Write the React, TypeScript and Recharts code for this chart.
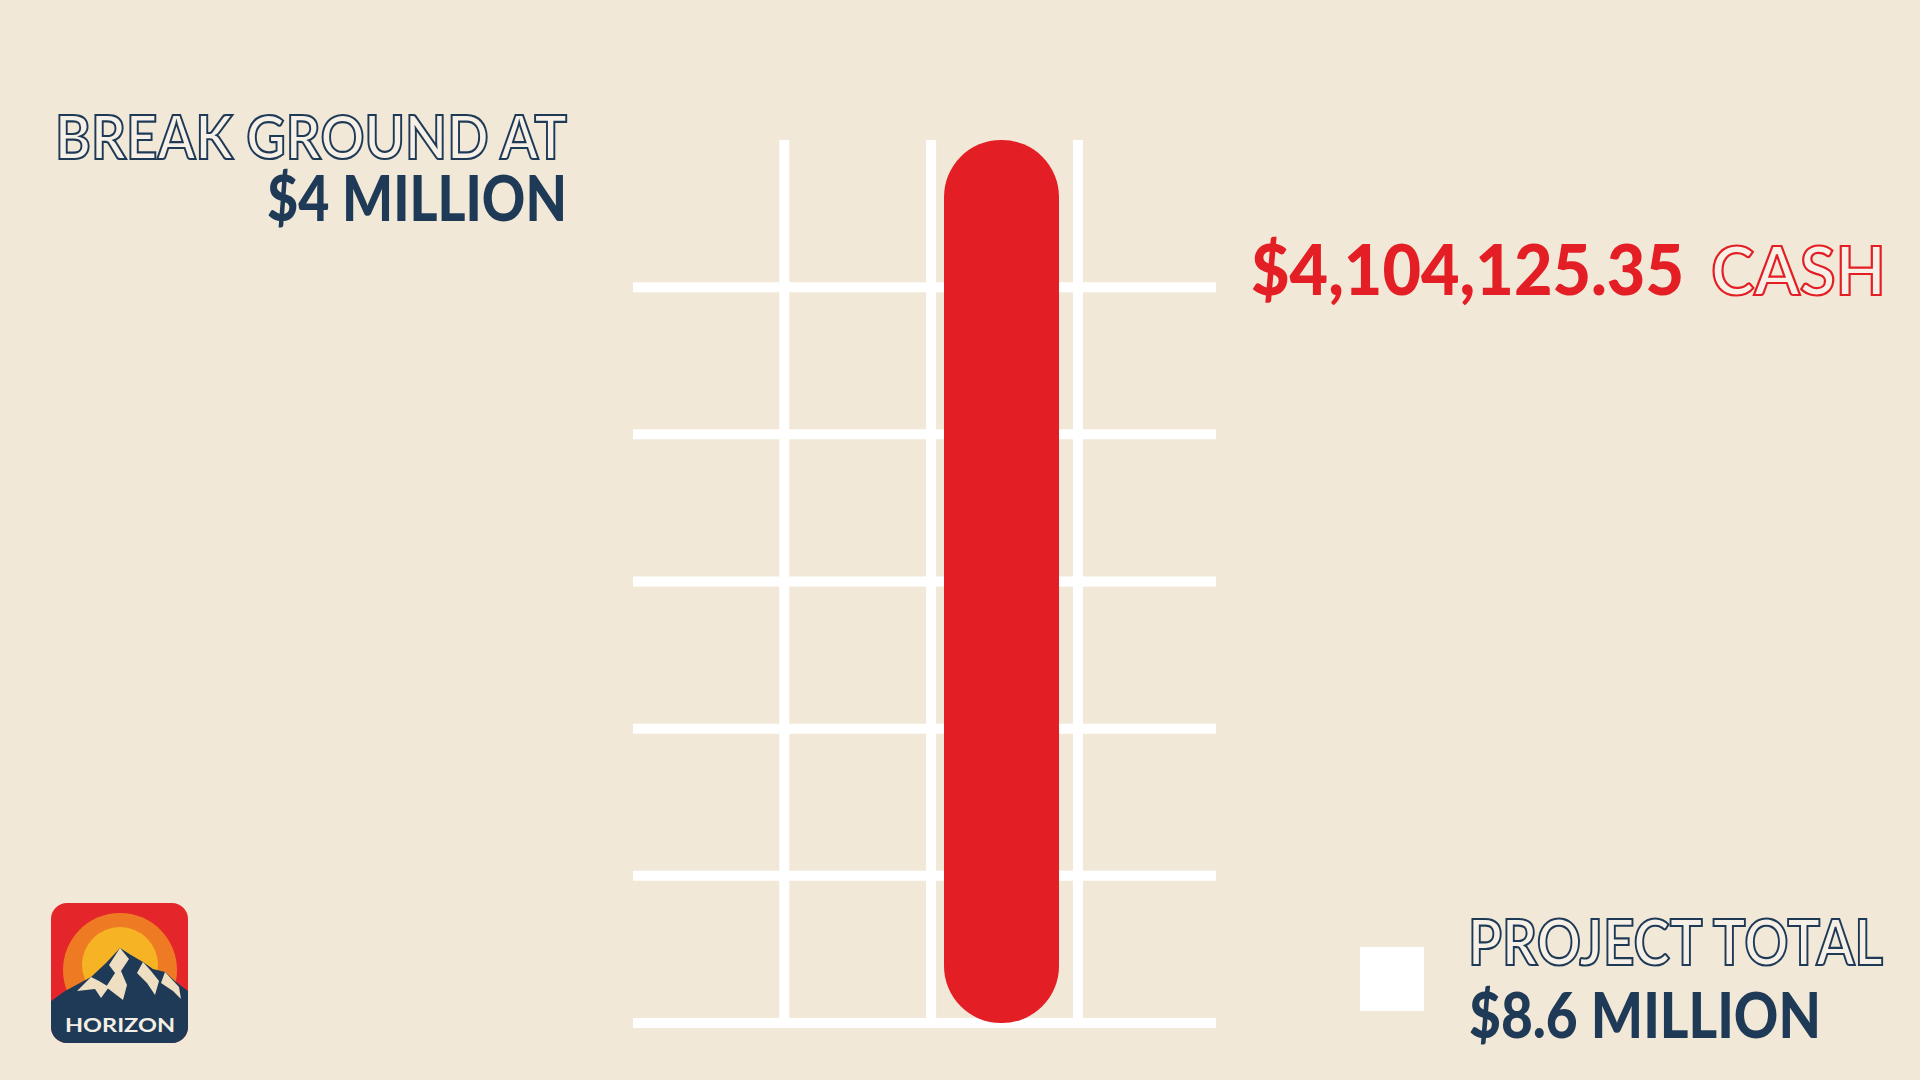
import React from "react";
import { BarChart, Bar, XAxis, YAxis, CartesianGrid, Legend, LabelList } from "recharts";

const categories = ["Cash"];
const cashRaised = [4104125.35];
const breakGroundGoal = 4000000;
const projectTotal = 8600000;
const gridColumns = [0, 1, 2];
const gridColumnDomain = [-1.03, 2.94];
const gridSteps = 6;

const data = categories.map((name, i) => ({ name, value: cashRaised[i] }));
const rowTicks = Array.from({ length: gridSteps }, (_, i) => (cashRaised[0] * i) / gridSteps);

const BG = "#F2E8D8";
const RED = "#E31E24";
const NAVY = "#1F3A56";
const PALE = "#F6F0E7";
const BOLD = "Lato, 'Noto Sans', sans-serif";

const money = (v: number) =>
  "$" + v.toLocaleString("en-US", { minimumFractionDigits: 2, maximumFractionDigits: 2 });
const millions = (v: number) => `$${v / 1000000} MILLION`;

// vertical rules of the grid, spread over the plot box the chart hands us
const columnLines = ({ offset }: any) => {
  const [lo, hi] = gridColumnDomain;
  return gridColumns.map((c) => offset.left + ((c - lo) / (hi - lo)) * offset.width);
};

const CashLabel = (props: any) => {
  const { x, y, width, value } = props;
  const left = x + width;
  return (
    <g>
      <text x={left + 192} y={y + 155} fill={RED} fontFamily={BOLD} fontWeight={900} fontSize={70}
        textLength={433} lengthAdjust="spacingAndGlyphs">
        {money(value)}
      </text>
      <text x={left + 652} y={y + 155} fill={PALE} stroke={RED} strokeWidth={2.2} fontFamily={BOLD}
        fontWeight={700} fontSize={66} textLength={175} lengthAdjust="spacingAndGlyphs">
        CASH
      </text>
    </g>
  );
};

const TotalLegend = () => (
  <svg width={555} height={150} style={{ overflow: "visible" }}>
    <rect x={0} y={32} width={64} height={64} fill="#FFFFFF" />
    <text x={108} y={50} fill={PALE} stroke={NAVY} strokeWidth={2.2} fontFamily={BOLD} fontWeight={700}
      fontSize={63} textLength={415} lengthAdjust="spacingAndGlyphs">
      PROJECT TOTAL
    </text>
    <text x={109} y={123} fill={NAVY} fontFamily={BOLD} fontWeight={900} fontSize={62}
      textLength={352} lengthAdjust="spacingAndGlyphs">
      {millions(projectTotal)}
    </text>
  </svg>
);

const Logo = () => (
  <svg x={51} y={903} width={137} height={140}>
    <defs>
      <clipPath id="logoClip">
        <rect x={0} y={0} width={137} height={140} rx={16} />
      </clipPath>
    </defs>
    <g clipPath="url(#logoClip)">
      <rect x={0} y={0} width={137} height={140} fill="#E4262B" />
      <circle cx={69} cy={67} r={57} fill="#EE7B23" />
      <circle cx={69} cy={62} r={38} fill="#F6B424" />
      <polygon
        points="0,98 14,88 40,74 55,60 69,45 80,52 92,59 102,66 114,69 125,79 137,88 137,140 0,140"
        fill={NAVY}
      />
      <polygon points="69,45 58,62 64,70 55,84 72,97 76,82 70,68 78,56" fill="#EEDFC3" />
      <polygon points="40,74 26,88 44,86 50,95 58,84 48,78" fill="#EEDFC3" />
      <polygon points="92,59 86,70 96,80 104,92 108,78 100,68" fill="#EEDFC3" />
      <polygon points="114,69 110,80 122,88 130,96 128,84" fill="#EEDFC3" />
      <text x={69} y={129} textAnchor="middle" fill="#F4EEE4" fontFamily={BOLD} fontWeight={700}
        fontSize={18} textLength={110} lengthAdjust="spacingAndGlyphs">
        HORIZON
      </text>
    </g>
  </svg>
);

export default function App() {
  return (
    <div style={{ position: "absolute", left: 0, top: 0, width: 1920, height: 1080, background: BG, overflow: "hidden" }}>
      <BarChart
        width={1920}
        height={1080}
        data={data}
        margin={{ top: 140, right: 704, bottom: 57, left: 633 }}
      >
        <XAxis type="category" dataKey="name" padding={{ left: 154, right: 0 }} hide />
        <YAxis type="number" domain={[0, "dataMax"]} ticks={rowTicks} interval={0} hide />
        <CartesianGrid
          stroke="#FFFFFF"
          strokeWidth={10}
          strokeDasharray=""
          syncWithTicks
          verticalCoordinatesGenerator={columnLines}
        />
        <Bar
          dataKey="value"
          fill={RED}
          barSize={115}
          radius={[57, 57, 57, 57]}
          isAnimationActive={false}
        >
          <LabelList dataKey="value" content={<CashLabel />} />
        </Bar>
        <Legend
          layout="horizontal"
          align="center"
          verticalAlign="middle"
          content={<TotalLegend />}
          wrapperStyle={{ left: 1360, top: 915, width: 555, height: 150 }}
        />
      </BarChart>
      <svg width={1920} height={1080} style={{ position: "absolute", left: 0, top: 0, pointerEvents: "none" }}>
        <text x={55} y={159} fill={PALE} stroke={NAVY} strokeWidth={2.2} fontFamily={BOLD} fontWeight={700}
          fontSize={62} textLength={512} lengthAdjust="spacingAndGlyphs">
          BREAK GROUND AT
        </text>
        <text x={267} y={221} fill={NAVY} fontFamily={BOLD} fontWeight={900} fontSize={62}
          textLength={300} lengthAdjust="spacingAndGlyphs">
          {millions(breakGroundGoal)}
        </text>
        <Logo />
      </svg>
    </div>
  );
}
